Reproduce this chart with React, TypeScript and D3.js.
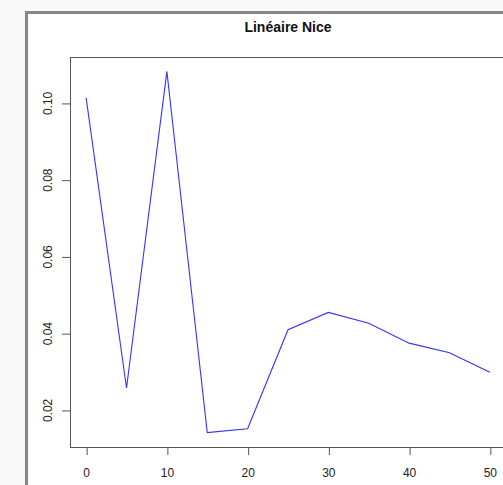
import React, { useEffect, useRef } from "react";
import * as d3 from "d3";

// values
const xValues = [0, 5, 10, 15, 20, 25, 30, 35, 40, 45, 50];
const yValues = [0.1013, 0.0257, 0.1082, 0.0141, 0.0151, 0.0409, 0.0454, 0.0426, 0.0374, 0.0349, 0.0298];
const xTicks = [0, 10, 20, 30, 40, 50];
const yTicks = [0.02, 0.04, 0.06, 0.08, 0.1];
const title = "Linéaire Nice";

const W = 503;
const H = 485;

export default function App() {
	const ref = useRef<SVGSVGElement>(null);

	useEffect(() => {
		const svg = d3.select(ref.current);
		svg.selectAll("*").remove();

		const box = { left: 70, right: 506, top: 57, bottom: 447 };

		// background + outer window frame
		svg.append("rect").attr("width", W).attr("height", H).attr("fill", "#f9f9f9");
		svg
			.append("rect")
			.attr("x", 26.5)
			.attr("y", 12.5)
			.attr("width", 600)
			.attr("height", 600)
			.attr("fill", "#fff")
			.attr("stroke", "#878787")
			.attr("stroke-width", 3);

		// R style 4% extension of the data range
		const xe = d3.extent(xValues) as [number, number];
		const ye = d3.extent(yValues) as [number, number];
		const xp = (xe[1] - xe[0]) * 0.04;
		const yp = (ye[1] - ye[0]) * 0.04;

		const x = d3.scaleLinear().domain([xe[0] - xp, xe[1] + xp]).range([box.left, box.right]);
		const y = d3.scaleLinear().domain([ye[0] - yp, ye[1] + yp]).range([box.bottom, box.top]);

		const font = "'Liberation Sans', Arial, sans-serif";

		svg
			.append("text")
			.attr("x", (box.left + box.right) / 2)
			.attr("y", 32)
			.attr("text-anchor", "middle")
			.attr("font-family", font)
			.attr("font-size", "14px")
			.attr("font-weight", "bold")
			.attr("fill", "#111")
			.text(title);

		// x axis
		const xAxis = d3
			.axisBottom(x)
			.tickValues(xTicks)
			.tickSize(8)
			.tickPadding(13)
			.tickSizeOuter(0)
			.tickFormat((d) => String(d));
		const gx = svg
			.append("g")
			.attr("transform", "translate(0," + box.bottom + ")")
			.call(xAxis);
		gx.select(".domain").remove();
		gx.selectAll("line").attr("stroke", "#555").attr("transform", "translate(0.5,0)");
		gx.selectAll("text")
			.attr("font-family", font)
			.attr("font-size", "12px")
			.attr("fill", "#222");

		// y axis, labels rotated like R's default las=0
		const yAxis = d3
			.axisLeft(y)
			.tickValues(yTicks)
			.tickSize(8)
			.tickSizeOuter(0)
			.tickFormat(d3.format(".2f"));
		const gy = svg
			.append("g")
			.attr("transform", "translate(" + box.left + ",0)")
			.call(yAxis);
		gy.select(".domain").remove();
		gy.selectAll("line").attr("stroke", "#555").attr("transform", "translate(0,0.5)");
		gy.selectAll("text")
			.attr("x", null)
			.attr("dy", null)
			.attr("text-anchor", "middle")
			.attr("transform", "translate(-18,0) rotate(-90)")
			.attr("font-family", font)
			.attr("font-size", "12px")
			.attr("fill", "#222");

		// plot frame
		svg
			.append("rect")
			.attr("x", box.left + 0.5)
			.attr("y", box.top + 0.5)
			.attr("width", box.right - box.left)
			.attr("height", box.bottom - box.top)
			.attr("fill", "none")
			.attr("stroke", "#555");

		const line = d3
			.line<number>()
			.x((d, i) => x(xValues[i]))
			.y((d) => y(d));

		svg
			.append("path")
			.datum(yValues)
			.attr("d", line)
			.attr("fill", "none")
			.attr("stroke", "#3333ff")
			.attr("stroke-width", 1.1);
	}, []);

	return (
		<svg
			ref={ref}
			width={W}
			height={H}
			style={{ position: "absolute", left: 0, top: 0 }}
		/>
	);
}
